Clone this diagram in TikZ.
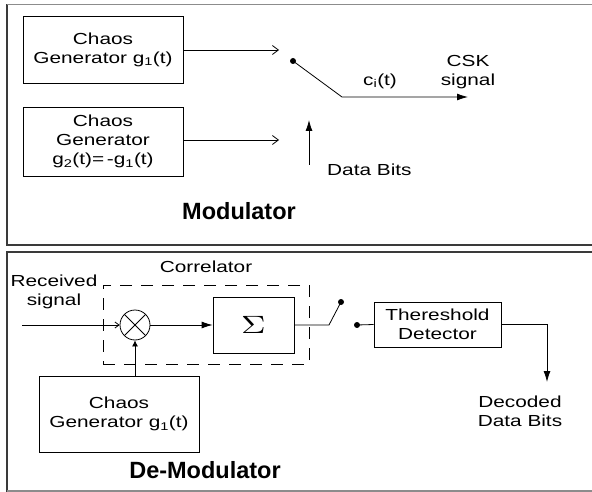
\documentclass[tikz,border=0pt]{standalone}
\usepackage{fontspec}
\setmainfont[FakeStretch=1.3]{Liberation Sans}
\newfontfamily\headfont{Liberation Sans}
\usetikzlibrary{arrows.meta, positioning, calc}
\definecolor{cframe}{HTML}{3A3A3A}
\definecolor{cedge}{HTML}{8C8C8C}

\begin{document}
\begin{tikzpicture}[x=1pt, y=-1pt,
  block/.style={draw, line width=0.8pt, align=center, inner sep=0pt,
    font=\fontsize{16}{19}\selectfont},
  lbl/.style={align=center, inner sep=0pt, font=\fontsize{16}{19}\selectfont},
  head/.style={inner sep=0pt, font=\headfont\bfseries\fontsize{23.5}{26}\selectfont},
  wire/.style={line width=0.8pt},
  opentip/.style={wire, -{Straight Barb[length=6pt, width=9pt]}},
  solidtip/.style={wire, -{Latex[length=11pt, width=7pt]}},
  dot/.style={circle, fill, inner sep=0pt, minimum size=6pt},
  corrbox/.style={draw, wire, dash pattern=on 12pt off 9pt}]
  \clip (0,0) rectangle (592,492);

  % Panels
  \draw[cframe, line width=1.5pt] (7,4.5) rectangle (600,245);
  \draw[cframe, line width=1.5pt] (7,252) rectangle (600,491);
  \draw[cedge, line width=1.5pt] (7,4.5) -- (600,4.5);
  \draw[cedge, line width=1.5pt] (7,491) -- (600,491);

  % Modulator
  \node[block, minimum width=160pt, minimum height=67pt] (gen1) at (103,49.5)
    {Chaos\\Generator g\textsubscript{1}(t)};
  \node[block, minimum width=160pt, minimum height=69pt] (gen2) at (103,141.5)
    {Chaos\\Generator\\g\textsubscript{2}(t)=\,-g\textsubscript{1}(t)};
  \coordinate (sw1) at (279,50);
  \coordinate (sw2) at (279,140);
  \draw[opentip] (gen1.east |- sw1) -- (sw1);
  \draw[opentip] (gen2.east |- sw2) -- (sw2);

  % Switch and output
  \node[dot] (pole) at (293,61) {};
  \coordinate (bend) at (342,97);
  \coordinate (csk) at (468,97);
  \draw[solidtip] (pole.center) -- (bend) -- (csk);
  \node[lbl] (cilbl) at (380,81) {c\textsubscript{i}(t)};
  \node[lbl] (csklbl) at (468,72) {CSK\\signal};

  % Data bits
  \coordinate (bits) at (309,165);
  \coordinate (bitsin) at (309,120);
  \draw[solidtip] (bits) -- (bitsin);
  \node[lbl, anchor=west] (bitslbl) at (327,170) {Data Bits};

  \node[head] (modlbl) at (239,211) {Modulator};

  % De-Modulator
  \node[corrbox, minimum width=206pt, minimum height=79pt] (corr) at (206,324.5) {};
  \node[lbl, above=12pt of corr] (corrlbl) {Correlator};
  \node[lbl] (rxlbl) at (54,292) {Received\\signal};
  \coordinate (rxin) at (22,325);

  \node[circle, draw, wire, minimum size=30pt, inner sep=0pt,
    path picture={
      \draw[wire] (path picture bounding box.north west) -- (path picture bounding box.south east);
      \draw[wire] (path picture bounding box.south west) -- (path picture bounding box.north east);
    }] (mult) at (135,325) {};
  \node[block, minimum width=81pt, minimum height=56pt, font=\fontsize{10}{12}\selectfont]
    (sigma) at (253.5,325) {\scalebox{3.4}[2.5]{$\Sigma$}};
  \node[block, minimum width=160pt, minimum height=76pt] (gen3) at (119,414)
    {Chaos\\Generator g\textsubscript{1}(t)};

  \draw[wire, -{Straight Barb[length=4pt, width=6pt]}] (rxin) -- (mult.west);
  \draw[solidtip] (mult.east) -- (sigma.west);
  \draw[wire, -{Latex[length=6pt, width=6pt]}] (mult |- gen3.north) -- (mult.south);

  % Sampling switch
  \coordinate (pivot) at (329,325);
  \node[dot] (tap) at (341,302) {};
  \node[dot] (tapout) at (357,325) {};
  \draw[wire] (sigma.east) -- (pivot) -- (tap.center);

  \node[block, minimum width=127pt, minimum height=45pt] (thr) at (437.5,324.5)
    {Thereshold\\Detector};
  \draw[wire] (tapout.center) -- (thr.west);
  \coordinate (out) at (547,382);
  \draw[solidtip] (thr.east) -| (out);
  \node[lbl] (declbl) at (520,411) {Decoded\\Data Bits};

  \node[head] (demodlbl) at (205,470) {De-Modulator};
\end{tikzpicture}
\end{document}
